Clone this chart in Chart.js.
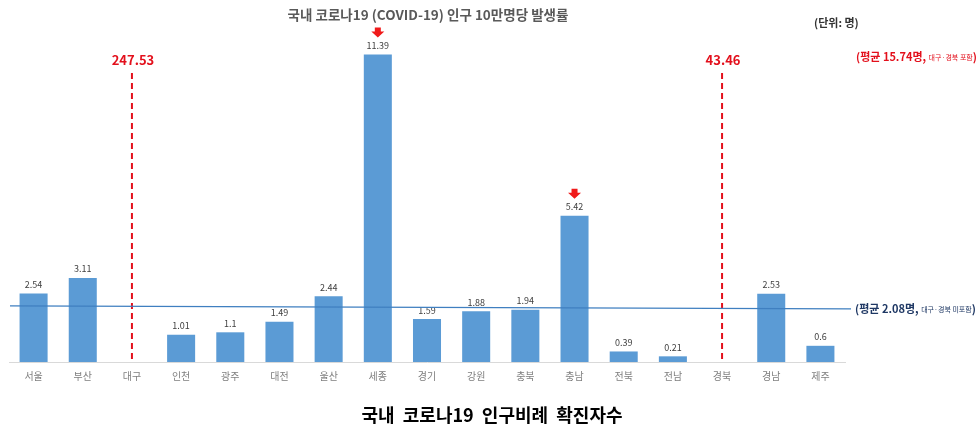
<!DOCTYPE html>
<html>
<head>
<meta charset="utf-8">
<script src="https://cdn.jsdelivr.net/npm/chart.js@4.4.1/dist/chart.umd.min.js"></script>
<style>
  html, body { margin: 0; padding: 0; background: #fff; }
  #wrap { width: 976px; height: 430px; }
</style>
</head>
<body>
<div id="wrap"><canvas id="chart" width="976" height="430"></canvas></div>
<script>
// 지역별 인구 10만명당 발생률
var regions = ['서울', '부산', '대구', '인천', '광주', '대전', '울산', '세종', '경기', '강원', '충북', '충남', '전북', '전남', '경북', '경남', '제주'];
var rates = [2.54, 3.11, null, 1.01, 1.1, 1.49, 2.44, 11.39, 1.59, 1.88, 1.94, 5.42, 0.39, 0.21, null, 2.53, 0.6];
// 축 범위를 벗어나는 값 (점선으로 표시)
var offScaleRates = [null, null, 247.53, null, null, null, null, null, null, null, null, null, null, null, 43.46, null, null];
// 화살표 표시 지역
var flagged = ['세종', '충남'];
var avgWithDaeguGb = 15.74;
var avgWithoutDaeguGb = 2.08;

var FONT = '"Noto Sans CJK KR", "Noto Sans", sans-serif';
var RED = '#e3101c';
var NAVY = '#1f3864';

function drawParts(ctx, x, y, parts) {
  parts.forEach(function(p) {
    ctx.font = p.font;
    ctx.fillStyle = p.color;
    ctx.fillText(p.text, x, y);
    x += ctx.measureText(p.text).width;
  });
}

function drawArrow(ctx, cx, top) {
  ctx.fillStyle = '#f01a1a';
  ctx.beginPath();
  ctx.moveTo(cx - 3, top);
  ctx.lineTo(cx + 3, top);
  ctx.lineTo(cx + 3, top + 4);
  ctx.lineTo(cx + 6.5, top + 4);
  ctx.lineTo(cx, top + 10);
  ctx.lineTo(cx - 6.5, top + 4);
  ctx.lineTo(cx - 3, top + 4);
  ctx.closePath();
  ctx.fill();
}

var annotations = {
  id: 'annotations',
  afterDatasetsDraw: function(chart) {
    var ctx = chart.ctx;
    var area = chart.chartArea;
    var xs = chart.scales.x;
    var ys = chart.scales.y;
    var meta = chart.getDatasetMeta(0);
    ctx.save();

    // value labels + arrows
    ctx.textAlign = 'center';
    ctx.textBaseline = 'middle';
    rates.forEach(function(v, i) {
      if (v === null) return;
      var bar = meta.data[i];
      ctx.font = '9px ' + FONT;
      ctx.fillStyle = '#404040';
      ctx.fillText(String(v), bar.x, bar.y - 9);
      if (flagged.indexOf(regions[i]) >= 0) {
        drawArrow(ctx, bar.x, bar.y - 27);
      }
    });

    // off-scale regions: red dashed line + value
    offScaleRates.forEach(function(v, i) {
      if (v === null) return;
      var x = xs.getPixelForValue(i);
      ctx.strokeStyle = RED;
      ctx.lineWidth = 2;
      ctx.setLineDash([6, 4]);
      ctx.beginPath();
      ctx.moveTo(x, 73);
      ctx.lineTo(x, area.bottom);
      ctx.stroke();
      ctx.setLineDash([]);
      ctx.font = 'bold 13px ' + FONT;
      ctx.fillStyle = RED;
      ctx.textAlign = 'center';
      ctx.fillText(v.toFixed(2), x + 1, 60);
    });

    // average line (대구·경북 미포함)
    var ay = ys.getPixelForValue(avgWithoutDaeguGb);
    ctx.strokeStyle = '#3f7fc0';
    ctx.lineWidth = 1.2;
    ctx.beginPath();
    ctx.moveTo(area.left + 1, ay);
    ctx.lineTo(area.right + 6, ay + 3);
    ctx.stroke();

    ctx.textAlign = 'left';
    drawParts(ctx, 855, ay + 3, [
      { text: '(평균 ' + avgWithoutDaeguGb + '명, ', font: 'bold 11px ' + FONT, color: NAVY },
      { text: '대구·경북 미포함', font: '7px ' + FONT, color: NAVY },
      { text: ')', font: 'bold 11px ' + FONT, color: NAVY }
    ]);
    drawParts(ctx, 856, 57, [
      { text: '(평균 ' + avgWithDaeguGb + '명, ', font: 'bold 11px ' + FONT, color: RED },
      { text: '대구·경북 포함', font: '7px ' + FONT, color: RED },
      { text: ')', font: 'bold 11px ' + FONT, color: RED }
    ]);

    // unit
    ctx.font = 'bold 11px ' + FONT;
    ctx.fillStyle = '#333333';
    ctx.fillText('(단위: 명)', 814, 23);

    // titles
    ctx.textAlign = 'center';
    ctx.font = 'bold 13.5px ' + FONT;
    ctx.fillStyle = '#595959';
    ctx.fillText('국내 코로나19 (COVID-19) 인구 10만명당 발생률', 428, 15);
    ctx.font = 'bold 18px ' + FONT;
    ctx.fillStyle = '#000000';
    ctx.fillText('국내  코로나19  인구비례  확진자수', 492, 415);

    ctx.restore();
  }
};

new Chart(document.getElementById('chart'), {
  type: 'bar',
  data: {
    labels: regions,
    datasets: [{
      data: rates,
      backgroundColor: '#5b9bd5',
      barPercentage: 0.57,
      categoryPercentage: 1
    }]
  },
  options: {
    responsive: false,
    animation: false,
    layout: { padding: { left: 9, right: 131, top: 30, bottom: 48 } },
    plugins: {
      legend: { display: false },
      tooltip: { enabled: false }
    },
    scales: {
      x: {
        grid: { display: false },
        border: { display: true, color: '#d9d9d9', width: 1 },
        ticks: { color: '#7f7f7f', font: { size: 10, family: FONT }, padding: 0 }
      },
      y: {
        display: false,
        min: 0,
        max: 12.3
      }
    }
  },
  plugins: [annotations]
});
</script>
</body>
</html>
